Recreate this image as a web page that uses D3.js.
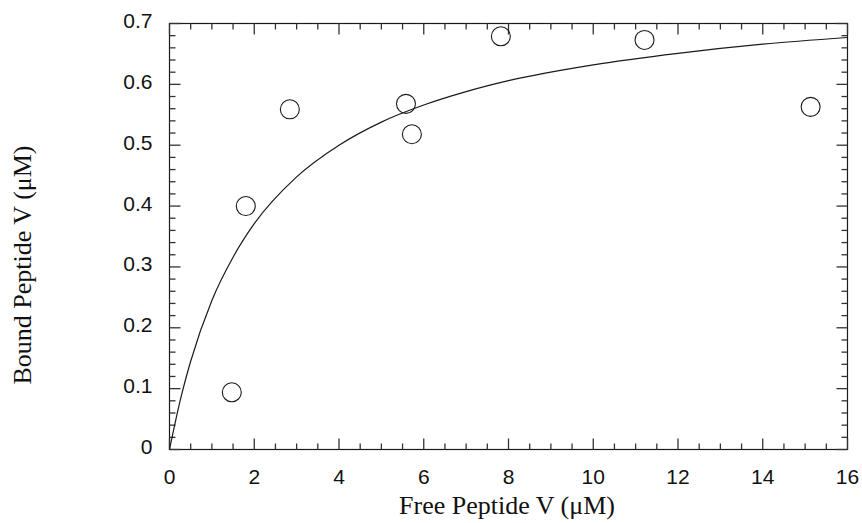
<!DOCTYPE html>
<html>
<head>
<meta charset="utf-8">
<script src="https://cdn.jsdelivr.net/npm/d3@7"></script>
<style>
  body { margin: 0; background: #fff; }
  svg { display: block; }
</style>
</head>
<body>
<div id="chart-area"></div>
<script>
// measured points
var freeConc  = [1.47, 1.80, 2.84, 5.58, 5.72, 7.82, 11.21, 15.13];
var boundConc = [0.094, 0.400, 0.559, 0.568, 0.518, 0.679, 0.673, 0.563];

// fitted curve
var fitX = [0, 0.25, 0.5, 1, 1.5, 2, 3, 4, 5, 6, 7, 8, 10, 12, 14, 16];
var fitY = [0, 0.080, 0.145, 0.245, 0.316, 0.371, 0.448, 0.500, 0.538, 0.566, 0.588, 0.606, 0.632, 0.651, 0.666, 0.677];

var xTicks = [0, 2, 4, 6, 8, 10, 12, 14, 16];
var yTicks = [0, 0.1, 0.2, 0.3, 0.4, 0.5, 0.6, 0.7];

var margin = { left: 169.5, right: 14.5, top: 23.5, bottom: 73.5 };
var width = 862 - margin.left - margin.right,
    height = 523 - margin.top - margin.bottom;

var svg = d3.select("#chart-area").append("svg")
    .attr("width", 862)
    .attr("height", 523);

var g = svg.append("g")
    .attr("transform", "translate(" + margin.left + "," + margin.top + ")");

var x = d3.scaleLinear().domain([0, 16]).range([0, width]);
var y = d3.scaleLinear().domain([0, 0.7]).range([height, 0]);

var ink = "#1a1a1a";

// frame
g.append("rect")
    .attr("width", width)
    .attr("height", height)
    .attr("fill", "none")
    .attr("stroke", ink)
    .attr("stroke-width", 1.2);

// minor + major ticks, inward on all four sides
var xTickData = d3.range(0, 33).map(function(i) { return { v: i * 0.5, len: i % 4 === 0 ? 11 : 6 }; });
var yTickData = d3.range(0, 36).map(function(i) { return { v: i * 0.02, len: i % 5 === 0 ? 11 : 6 }; });

var ticks = g.append("g").attr("class", "ticks");

xTickData.forEach(function(d) {
    ticks.append("line")
        .attr("x1", x(d.v)).attr("x2", x(d.v))
        .attr("y1", height).attr("y2", height - d.len);
    ticks.append("line")
        .attr("x1", x(d.v)).attr("x2", x(d.v))
        .attr("y1", 0).attr("y2", d.len);
});
yTickData.forEach(function(d) {
    ticks.append("line")
        .attr("y1", y(d.v)).attr("y2", y(d.v))
        .attr("x1", 0).attr("x2", d.len);
    ticks.append("line")
        .attr("y1", y(d.v)).attr("y2", y(d.v))
        .attr("x1", width).attr("x2", width - d.len);
});
ticks.selectAll("line").attr("stroke", "#333").attr("stroke-width", 1.3);

// tick labels
g.selectAll(".xlab").data(xTicks).enter().append("text")
    .attr("class", "xlab")
    .attr("x", function(d) { return x(d); })
    .attr("y", height + 34.5)
    .attr("text-anchor", "middle")
    .attr("font-family", "Liberation Sans, Arial, sans-serif")
    .attr("font-size", "21px")
    .attr("fill", "#111")
    .text(function(d) { return d; });

g.selectAll(".ylab").data(yTicks).enter().append("text")
    .attr("class", "ylab")
    .attr("x", -17)
    .attr("y", function(d) { return y(d) + 4.5; })
    .attr("text-anchor", "end")
    .attr("font-family", "Liberation Sans, Arial, sans-serif")
    .attr("font-size", "21px")
    .attr("fill", "#111")
    .text(function(d) { return d === 0 ? "0" : d3.format(".1f")(d); });

// axis titles
svg.append("text")
    .attr("x", 507)
    .attr("y", 514)
    .attr("text-anchor", "middle")
    .attr("font-family", "Liberation Serif, Times New Roman, serif")
    .attr("font-size", "26px")
    .attr("fill", "#111")
    .text("Free Peptide V (\u03BCM)");

svg.append("text")
    .attr("transform", "translate(31," + 265 + ") rotate(-90)")
    .attr("text-anchor", "middle")
    .attr("font-family", "Liberation Serif, Times New Roman, serif")
    .attr("font-size", "26px")
    .attr("fill", "#111")
    .text("Bound Peptide V (\u03BCM)");

// fit curve
var fit = fitX.map(function(d, i) { return [d, fitY[i]]; });
var line = d3.line()
    .x(function(d) { return x(d[0]); })
    .y(function(d) { return y(d[1]); })
    .curve(d3.curveMonotoneX);

g.append("path")
    .datum(fit)
    .attr("d", line)
    .attr("fill", "none")
    .attr("stroke", ink)
    .attr("stroke-width", 1.2);

// data points
var pts = freeConc.map(function(d, i) { return { f: d, b: boundConc[i] }; });
g.selectAll("circle").data(pts).enter().append("circle")
    .attr("cx", function(d) { return x(d.f); })
    .attr("cy", function(d) { return y(d.b); })
    .attr("r", 9.5)
    .attr("fill", "none")
    .attr("stroke", ink)
    .attr("stroke-width", 1.1);
</script>
</body>
</html>
